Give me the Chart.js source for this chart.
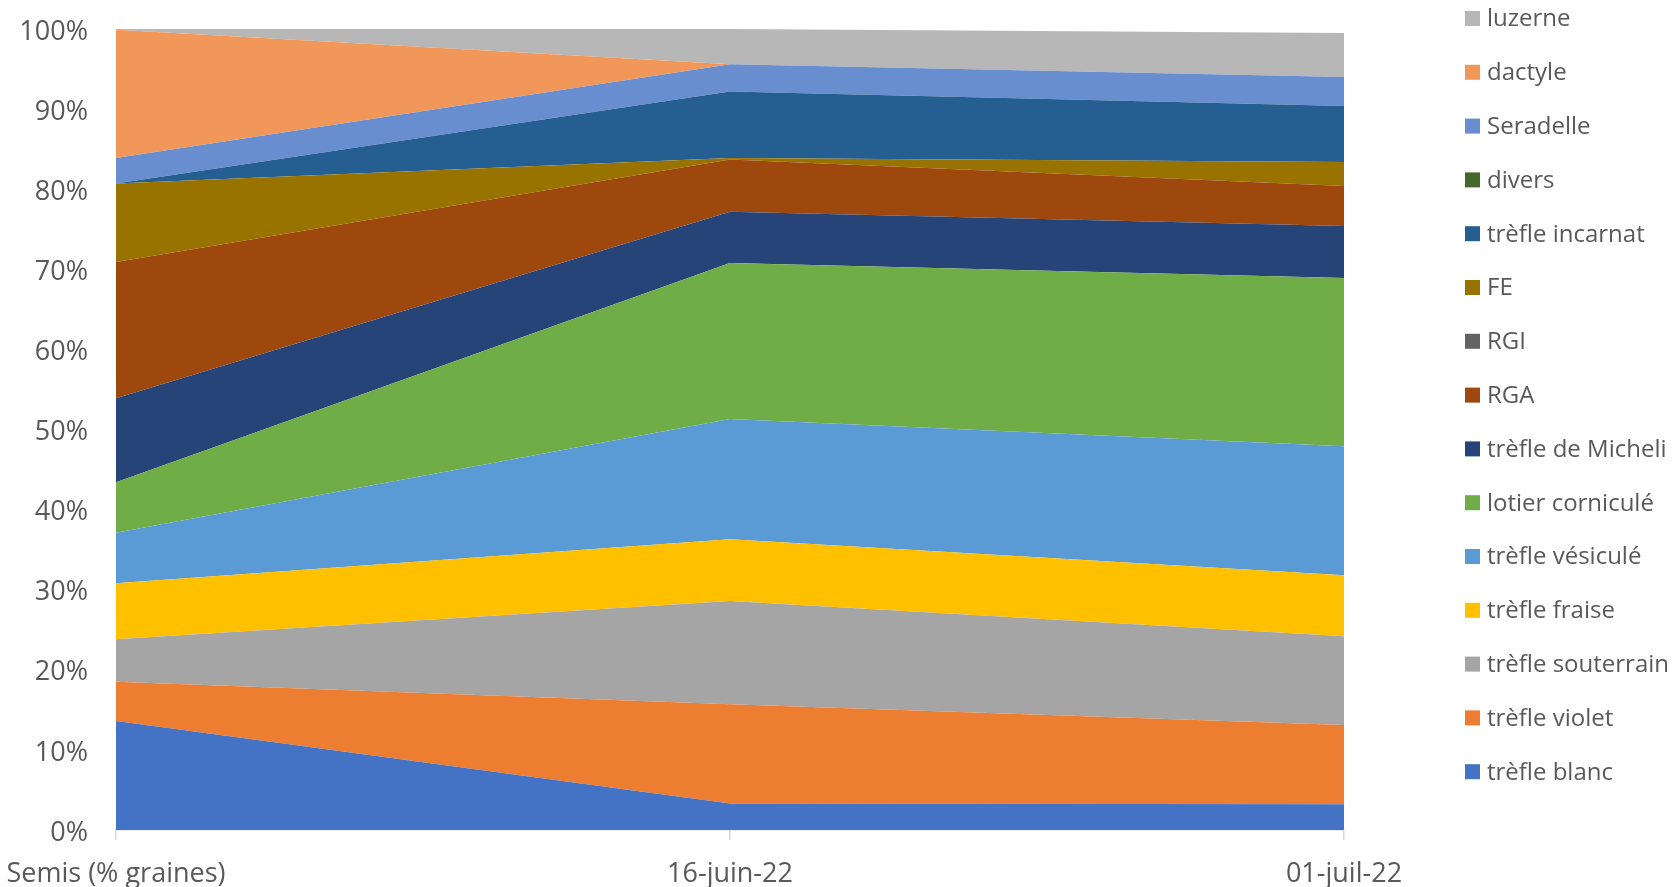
<!DOCTYPE html>
<html>
<head>
<meta charset="utf-8">
<script src="https://cdn.jsdelivr.net/npm/chart.js@4.4.1/dist/chart.umd.min.js"></script>
<style>
  html, body { margin: 0; padding: 0; background: #ffffff; }
  #wrap { position: relative; width: 1673px; height: 887px; }
</style>
</head>
<body>
<div id="wrap"><canvas id="c"></canvas></div>
<script>
// ---- data (percent of composition) ----
const categories = ['Semis (% graines)', '16-juin-22', '01-juil-22'];

const trefleBlanc      = [13.6, 3.3, 3.2];
const trefleViolet     = [4.9, 12.4, 9.9];
const trefleSouterrain = [5.3, 12.9, 11.1];
const trefleFraise     = [7.0, 7.7, 7.6];
const trefleVesicule   = [6.3, 15.0, 16.1];
const lotierCornicule  = [6.3, 19.5, 21.0];
const trefleMicheli    = [10.5, 6.4, 6.5];
const rga              = [17.0, 6.5, 5.0];
const rgi              = [0, 0, 0];
const fe               = [9.8, 0.2, 3.0];
const trefleIncarnat   = [0, 8.3, 7.0];
const divers           = [0, 0, 0];
const seradelle        = [3.2, 3.4, 3.6];
const dactyle          = [16.0, 0, 0];
const luzerne          = [0.1, 4.4, 5.5];

const seriesNames = ['trèfle blanc', 'trèfle violet', 'trèfle souterrain', 'trèfle fraise',
  'trèfle vésiculé', 'lotier corniculé', 'trèfle de Micheli', 'RGA', 'RGI', 'FE',
  'trèfle incarnat', 'divers', 'Seradelle', 'dactyle', 'luzerne'];
const seriesValues = [trefleBlanc, trefleViolet, trefleSouterrain, trefleFraise,
  trefleVesicule, lotierCornicule, trefleMicheli, rga, rgi, fe,
  trefleIncarnat, divers, seradelle, dactyle, luzerne];
const seriesColors = ['#4472C4', '#ED7D31', '#A5A5A5', '#FFC000', '#5B9BD5', '#70AD47',
  '#264478', '#9E480E', '#636363', '#997300', '#255E91', '#43682B',
  '#698ED0', '#F1975A', '#B7B7B7'];

const yTickValues = [0, 10, 20, 30, 40, 50, 60, 70, 80, 90, 100];

const FONT = '"Open Sans", "Noto Sans", sans-serif';
const TEXT_COLOR = '#595959';

const datasets = seriesNames.map((name, i) => ({
  label: name,
  data: seriesValues[i],
  backgroundColor: seriesColors[i],
  borderColor: seriesColors[i],
  borderWidth: 0,
  pointRadius: 0,
  pointHoverRadius: 0,
  tension: 0,
  fill: i === 0 ? 'origin' : '-1'
}));

// legend drawn to the right, top item = last series (like Excel)
const sideLegend = {
  id: 'sideLegend',
  afterDraw(chart) {
    const ctx = chart.ctx;
    const ds = chart.data.datasets;
    const x0 = 1465, box = 15, textX = 1487, y0 = 18.5, step = 53.8;
    ctx.save();
    ctx.font = '24px ' + FONT;
    ctx.textBaseline = 'middle';
    ctx.textAlign = 'left';
    for (let k = 0; k < ds.length; k++) {
      const d = ds[ds.length - 1 - k];
      const cy = y0 + k * step;
      ctx.fillStyle = d.backgroundColor;
      ctx.fillRect(x0, cy - box / 2, box, box);
      ctx.fillStyle = TEXT_COLOR;
      ctx.fillText(d.label, textX, cy + 1);
    }
    ctx.restore();
  }
};

new Chart(document.getElementById('c'), {
  type: 'line',
  data: { labels: categories, datasets },
  options: {
    responsive: true,
    maintainAspectRatio: false,
    animation: false,
    events: [],
    layout: { padding: { left: 22, right: 329, top: 29, bottom: 0 } },
    plugins: {
      legend: { display: false },
      tooltip: { enabled: false },
      title: { display: false }
    },
    elements: { line: { borderWidth: 0 } },
    scales: {
      x: {
        type: 'category',
        offset: false,
        afterFit(scale) {
          scale.height = 57;
          scale.paddingLeft = 0;
          scale.paddingRight = 0;
        },
        grid: {
          display: true,
          drawOnChartArea: false,
          drawTicks: true,
          tickLength: 10,
          color: '#D9D9D9',
          lineWidth: 1.5
        },
        border: { display: true, color: '#D9D9D9', width: 1.5 },
        ticks: {
          color: TEXT_COLOR,
          font: { family: FONT, size: 27 },
          padding: 18,
          maxRotation: 0,
          autoSkip: false
        }
      },
      y: {
        stacked: true,
        min: 0,
        max: 100,
        afterBuildTicks(scale) { scale.ticks = yTickValues.map(v => ({ value: v })); },
        afterFit(scale) {
          scale.width = 94;
          scale.paddingTop = 0;
          scale.paddingBottom = 0;
        },
        grid: { display: false, drawTicks: false },
        border: { display: false },
        ticks: {
          color: TEXT_COLOR,
          font: { family: FONT, size: 27 },
          padding: 28,
          labelOffset: 3,
          callback: v => v + '%'
        }
      }
    }
  },
  plugins: [sideLegend]
});
</script>
</body>
</html>
